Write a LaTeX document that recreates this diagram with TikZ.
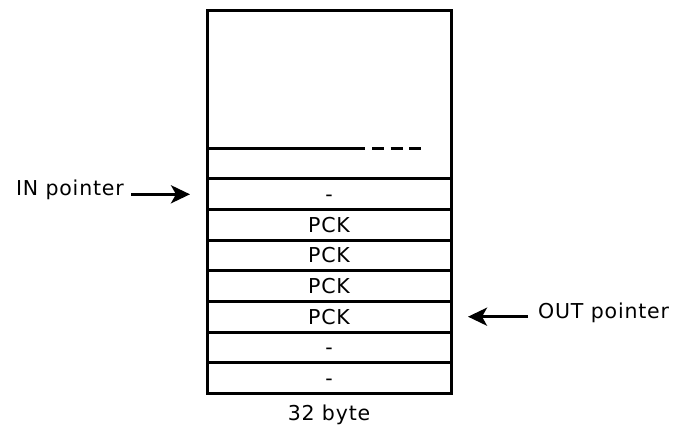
\documentclass[tikz,border=0pt]{standalone}
\usepackage{fontspec}
\setmainfont{DejaVu Sans}
\newfontfamily\labelfont[LetterSpace=4]{DejaVu Sans}
\usetikzlibrary{arrows.meta,positioning}
\begin{document}
\begin{tikzpicture}[x=1pt,y=-1pt,
  frame/.style={draw=black,line width=3pt},
  cell/.style={draw=black,line width=3pt,minimum width=244pt,minimum height=30.6pt,
    inner sep=0pt,outer sep=0pt,text height=15pt,text depth=0pt,
    font=\labelfont\fontsize{20.5}{20.5}\selectfont},
  lbl/.style={font=\labelfont\fontsize{20.5}{20.5}\selectfont,inner sep=0pt},
  ptr/.style={line width=3pt,-{Stealth[length=19pt,width=18pt,inset=5pt]}}]
\useasboundingbox (0,0) rectangle (674,427);
% free area above the stack
\node[frame,minimum width=244pt,minimum height=168pt,inner sep=0pt,outer sep=0pt,anchor=north west] (free) at (207,11) {};
\coordinate (fillL) at (207,149);
\coordinate (fillM) at (365,149);
\coordinate (fillR) at (422,149);
\draw[line width=3pt] (fillL) -- (fillM);
\draw[line width=3pt,dash pattern=on 12pt off 6.5pt] ([xshift=7pt]fillM) -- (fillR);
% stack cells
\node[cell,anchor=north west] (c1) at (207,179) {-};
\node[cell,below=0pt of c1] (c2) {PCK};
\node[cell,below=0pt of c2] (c3) {PCK};
\node[cell,below=0pt of c3] (c4) {PCK};
\node[cell,below=0pt of c4] (c5) {PCK};
\node[cell,below=0pt of c5] (c6) {-};
\node[cell,below=0pt of c6] (c7) {-};
\node[lbl] (size) at (329,415) {32 byte};
% pointers
\node[lbl,anchor=east] (inlbl) at (124,190) {IN pointer};
\node[lbl,anchor=west] (outlbl) at (538,313) {OUT pointer};
\draw[ptr] ([xshift=7pt]inlbl.east |- c1.west) -- ([xshift=-17pt]c1.west);
\draw[ptr] ([xshift=-10pt]outlbl.west |- c5.east) -- ([xshift=17pt]c5.east);
\end{tikzpicture}
\end{document}
